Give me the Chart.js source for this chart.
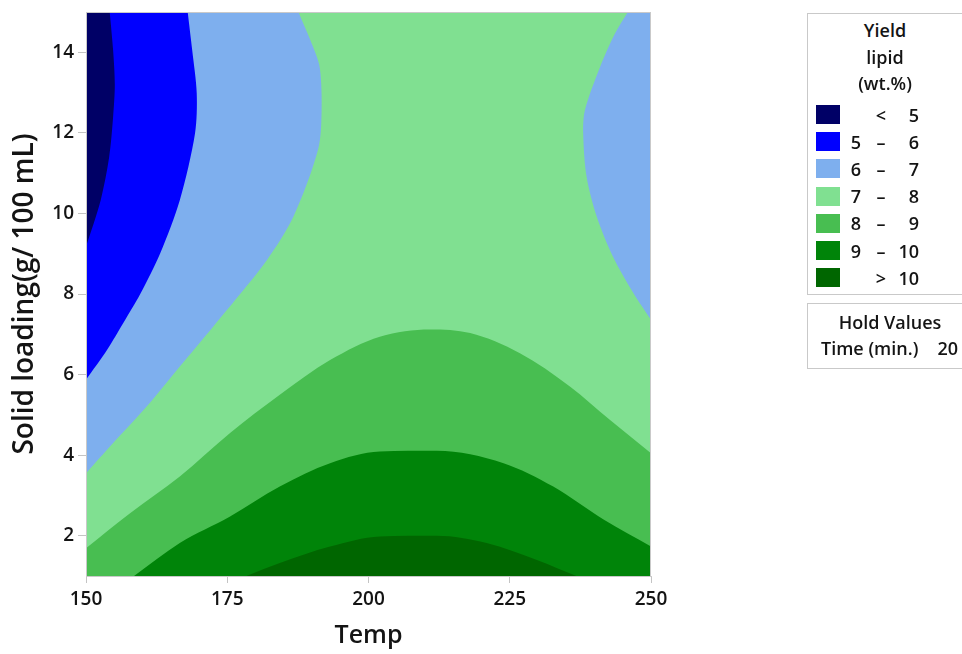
<!DOCTYPE html>
<html>
<head>
<meta charset="utf-8">
<script src="https://cdn.jsdelivr.net/npm/chart.js@4/dist/chart.umd.min.js"></script>
<style>
  html, body { margin: 0; padding: 0; background: #fff; }
  #wrap { position: relative; width: 962px; height: 654px; overflow: hidden;
          font-family: 'Open Sans', 'Noto Sans', sans-serif; font-weight: 600; color: #141414; }
  #c { position: absolute; left: 0; top: 0; }
  .box { position: absolute; border: 1px solid #c9c9c9; background: #fff; box-sizing: border-box; }
  .t { position: absolute; white-space: nowrap; font-size: 18px; }
  .sw { position: absolute; width: 24px; height: 19px; }
</style>
</head>
<body>
<div id="wrap">
  <canvas id="c" width="962" height="654"></canvas>
  <div class="box" style="left:807px; top:13px; width:170px; height:282px;"></div>
  <div class="box" style="left:807px; top:303px; width:170px; height:66px;"></div>
  <div id="key"></div>
</div>
<script>
// Axis ticks
const tempTicks = [150, 175, 200, 225, 250];
const loadingTicks = [2, 4, 6, 8, 10, 12, 14];

// Yield bands (wt.%), from lowest to highest
const bandLow    = ['',  '5', '6', '7', '8', '9',  ''];
const bandSymbol = ['<', '–', '–', '–', '–', '–',  '>'];
const bandHigh   = ['5', '6', '7', '8', '9', '10', '10'];
const bandColors = ['#000066', '#0000ff', '#7eafee', '#80e091', '#48be51', '#008409', '#006600'];

// Contour edges as [Temp, Solid loading] pairs.
// Left-hand edges run upward in solid loading (region lies towards Temp = 150).
const edge5Left = [[150, 9.17], [152.6, 10.33], [154.1, 11.4], [154.8, 12.4], [155.1, 13.2], [154.8, 14.05], [154.2, 15]];
const edge6Left = [[150, 5.87], [153.8, 6.63], [156.6, 7.28], [159.6, 8.0], [163.1, 9.0], [166.6, 10.33],
                   [169.3, 11.99], [169.6, 12.98], [168.8, 14.05], [168.0, 15]];
const edge7Left = [[150, 3.55], [154.8, 4.30], [160.7, 5.2], [166.6, 6.2], [172.5, 7.19], [176.4, 7.85],
                   [182.0, 8.84], [186.7, 9.92], [191.1, 11.6], [191.7, 12.56], [191.4, 13.6], [190.2, 14.13], [187.6, 15]];
// Right-hand edge (region lies towards Temp = 250).
const edge7Right = [[250, 7.36], [246.9, 8.02], [243.3, 8.92], [240.4, 9.92], [238.6, 10.91], [238.0, 11.98],
                    [238.3, 12.56], [241.0, 13.64], [243.6, 14.46], [245.9, 15]];
// Lower edges run along Temp (region lies below).
const edge8 = [[150, 1.69], [157.8, 2.56], [166.6, 3.47], [175.5, 4.55], [184.3, 5.50], [193.2, 6.36], [202.0, 6.94],
               [210.9, 7.12], [218.0, 7.03], [226.8, 6.53], [235.7, 5.70], [242.7, 4.88], [250, 4.05]];
const edge9 = [[158.5, 1], [166.6, 1.82], [175.5, 2.48], [184.3, 3.22], [193.2, 3.80], [202.0, 4.09], [212.1, 4.11],
               [223.9, 3.80], [232.7, 3.22], [241.6, 2.40], [250, 1.73]];
const edge10 = [[178.4, 1], [184.3, 1.32], [193.2, 1.73], [202.0, 1.98], [212.1, 2.0], [220.9, 1.82], [229.8, 1.40], [236.8, 1]];
// Top of the plot, covered by the 7 – 8 band everywhere else
const topEdge = [[150, 15], [250, 15]];

const tempRange = [150, 250];
const loadingRange = [1, 15];

const fontTick = { family: "'Open Sans', 'Noto Sans', sans-serif", size: 19, weight: '600' };
const fontTitleX = { family: "'Open Sans', 'Noto Sans', sans-serif", size: 25, weight: '600' };
const fontTitleY = { family: "'Open Sans', 'Noto Sans', sans-serif", size: 28, weight: '600' };

function band(label, pts, color, fill, axis, order) {
  const ds = {
    label,
    data: pts.map(([x, y]) => ({ x, y })),
    backgroundColor: color,
    borderColor: 'rgba(0,0,0,0)',
    borderWidth: 0,
    pointRadius: 0,
    pointHoverRadius: 0,
    fill,
    indexAxis: axis,
    order
  };
  if (axis === 'x') ds.cubicInterpolationMode = 'monotone';
  else ds.tension = 0.3;
  return ds;
}

const datasets = [
  band('< 5',        edge5Left,  bandColors[0], { value: tempRange[0] }, 'y', 0),
  band('5 – 6',      edge6Left,  bandColors[1], { value: tempRange[0] }, 'y', 1),
  band('6 – 7',      edge7Left,  bandColors[2], { value: tempRange[0] }, 'y', 2),
  band('6 – 7 (R)',  edge7Right, bandColors[2], { value: tempRange[1] }, 'y', 3),
  band('> 10',       edge10,     bandColors[6], { value: loadingRange[0] }, 'x', 4),
  band('9 – 10',     edge9,      bandColors[5], { value: loadingRange[0] }, 'x', 5),
  band('8 – 9',      edge8,      bandColors[4], { value: loadingRange[0] }, 'x', 6),
  band('7 – 8',      topEdge,    bandColors[3], { value: loadingRange[0] }, 'x', 7)
];

// Thin frame around the plotting area
const framePlugin = {
  id: 'frame',
  afterDatasetsDraw(chart) {
    const { ctx, chartArea: a } = chart;
    ctx.save();
    ctx.strokeStyle = '#c9c9c9';
    ctx.lineWidth = 1;
    ctx.strokeRect(a.left + 0.5, a.top + 0.5, a.right - a.left - 1, a.bottom - a.top);
    ctx.restore();
  }
};

new Chart(document.getElementById('c'), {
  type: 'line',
  data: { datasets },
  options: {
    responsive: false,
    devicePixelRatio: 1,
    animation: false,
    events: [],
    layout: { padding: { top: 12, right: 311, bottom: 0, left: 0 } },
    plugins: { legend: { display: false }, tooltip: { enabled: false } },
    scales: {
      x: {
        type: 'linear',
        min: tempRange[0], max: tempRange[1],
        afterBuildTicks: s => { s.ticks = tempTicks.map(v => ({ value: v })); },
        afterFit: s => { s.height = 78; s.paddingLeft = 0; s.paddingRight = 0; },
        grid: { drawOnChartArea: false, drawTicks: true, tickLength: 7, color: '#c4c4c4' },
        border: { display: true, color: '#c9c9c9' },
        ticks: { font: fontTick, color: '#141414', padding: 5, maxRotation: 0, autoSkip: false },
        title: { display: true, text: 'Temp', font: fontTitleX, color: '#141414', padding: { top: 0, bottom: 3 } }
      },
      y: {
        type: 'linear',
        min: loadingRange[0], max: loadingRange[1],
        afterBuildTicks: s => { s.ticks = loadingTicks.map(v => ({ value: v })); },
        afterFit: s => { s.width = 86; s.paddingTop = 0; s.paddingBottom = 0; },
        grid: { drawOnChartArea: false, drawTicks: true, tickLength: 8, color: '#c4c4c4' },
        border: { display: true, color: '#c9c9c9' },
        ticks: { font: fontTick, color: '#141414', padding: 4, autoSkip: false },
        title: { display: true, text: 'Solid loading(g/ 100 mL)', font: fontTitleY, color: '#141414', padding: { top: 8, bottom: 0 } }
      }
    }
  },
  plugins: [framePlugin]
});

// Key: title, colour swatches and band ranges; hold values
const key = document.getElementById('key');
function text(str, left, top, extra) {
  const d = document.createElement('div');
  d.className = 't';
  d.textContent = str;
  d.style.cssText += `left:${left}px; top:${top}px; ${extra || ''}`;
  key.appendChild(d);
  return d;
}
const keyTitle = ['Yield', 'lipid', '(wt.%)'];
const keyTitleY = [30, 57, 83];
keyTitle.forEach((s, i) => text(s, 807, keyTitleY[i] - 13, 'width:156px; text-align:center; line-height:26px;'));

bandColors.forEach((c, i) => {
  const top = 105 + 27.2 * i;
  const sw = document.createElement('div');
  sw.className = 'sw';
  sw.style.left = '816px';
  sw.style.top = top + 'px';
  sw.style.background = c;
  key.appendChild(sw);
  const cy = top + 9.5;
  text(bandLow[i], 831, cy - 13, 'width:30px; text-align:right; line-height:26px;');
  text(bandSymbol[i], 866, cy - 13, 'width:30px; text-align:center; line-height:26px;');
  text(bandHigh[i], 889, cy - 13, 'width:30px; text-align:right; line-height:26px;');
});

const holdTitle = 'Hold Values';
const holdName = 'Time (min.)';
const holdValue = '20';
text(holdTitle, 820, 322 - 13, 'width:140px; text-align:center; line-height:26px;');
text(holdName, 821, 348 - 13, 'line-height:26px;');
text(holdValue, 930, 348 - 13, 'width:28px; text-align:right; line-height:26px;');
</script>
</body>
</html>
